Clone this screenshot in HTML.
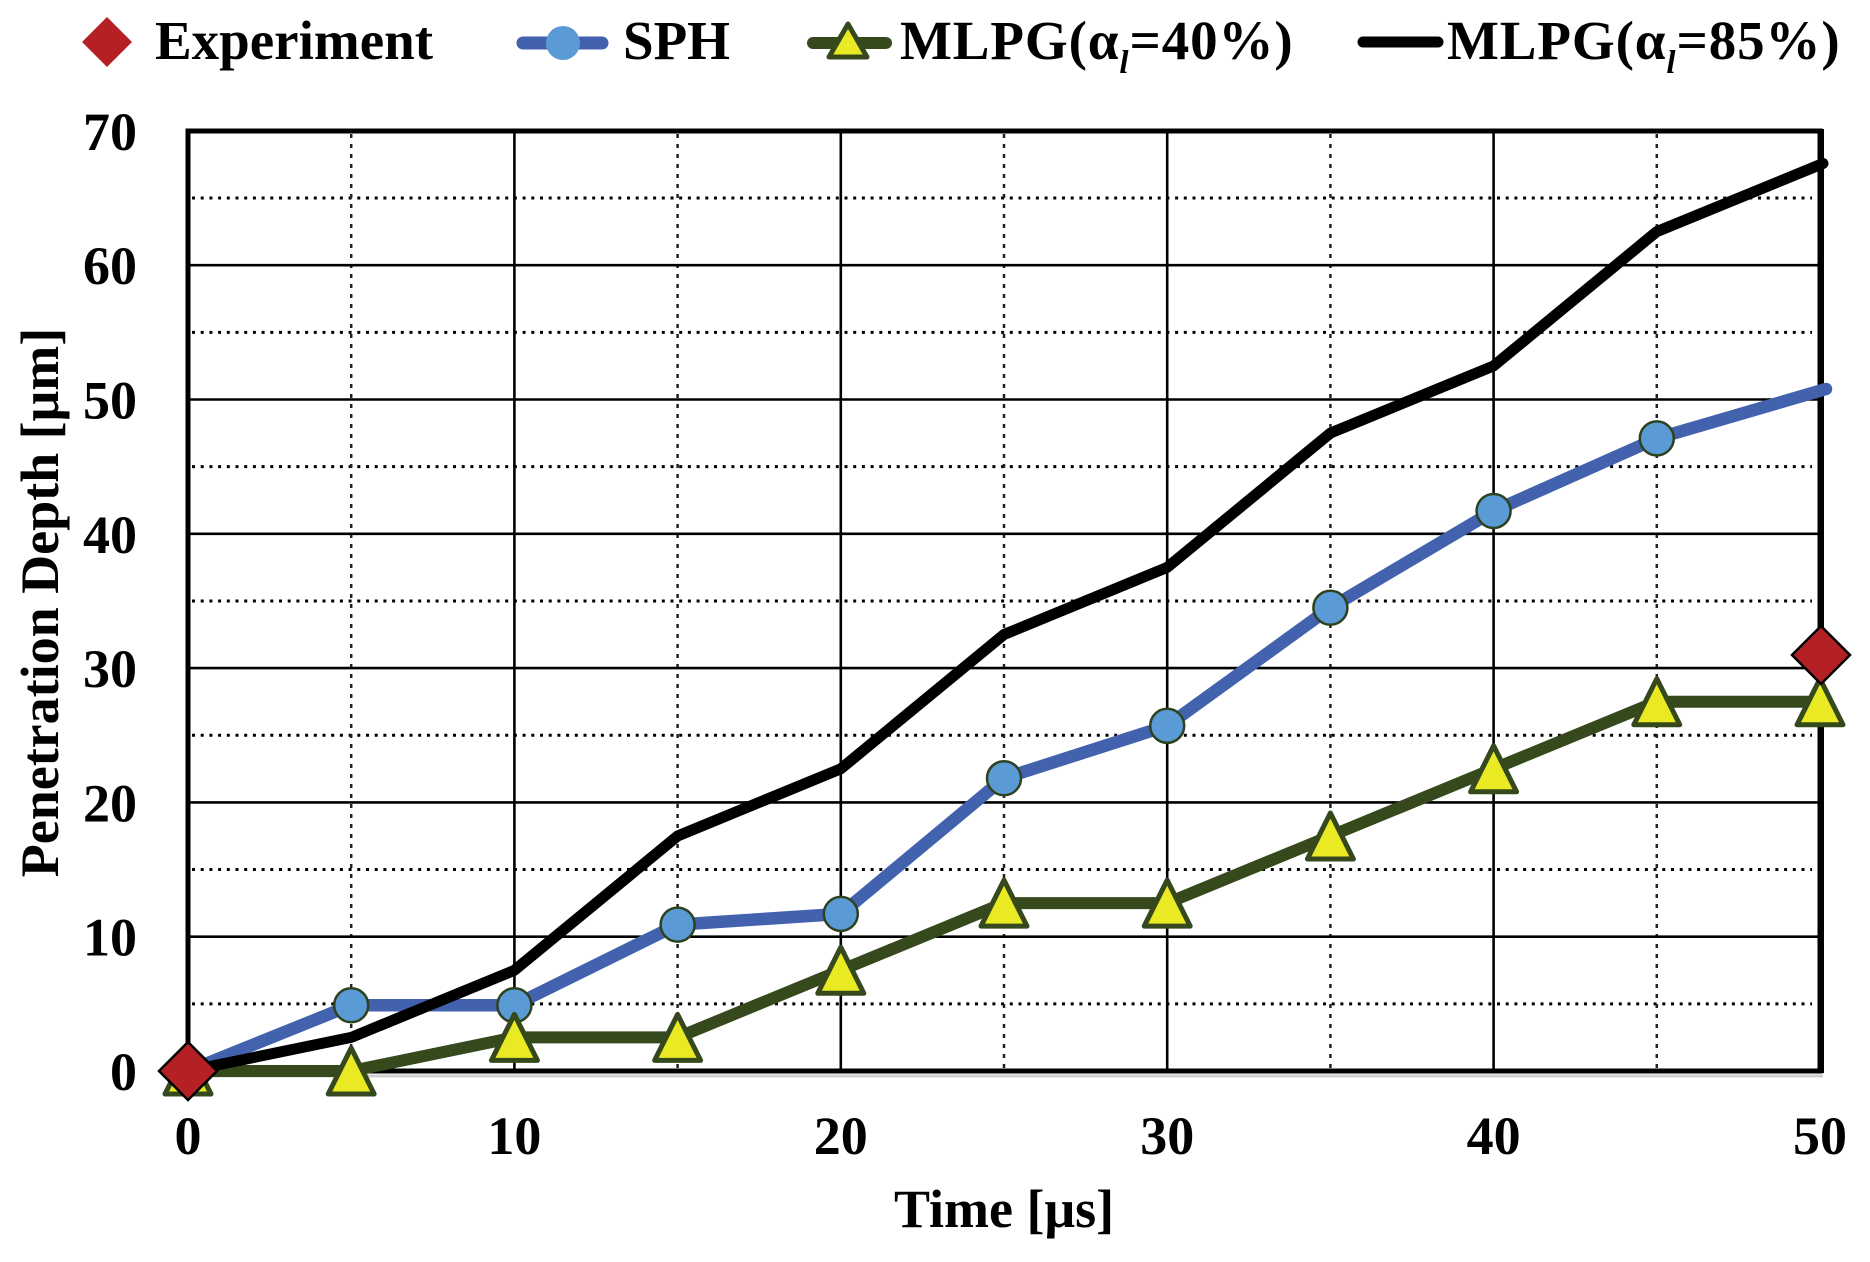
<!DOCTYPE html>
<html>
<head>
<meta charset="utf-8">
<style>
  html,body{margin:0;padding:0;background:#fff;}
  svg{display:block;}
  text{font-family:"Liberation Serif","Times New Roman",serif;font-weight:bold;fill:#000;}
</style>
</head>
<body>
<svg width="1870" height="1262" viewBox="0 0 1870 1262" xmlns="http://www.w3.org/2000/svg">
  <rect x="0" y="0" width="1870" height="1262" fill="#fff"/>

  <!-- Legend -->
  <polygon points="107,17 132,42 107,67 82,42" fill="#b52025"/>
  <text x="155" y="59" font-size="55">Experiment</text>

  <line x1="523" y1="43" x2="602" y2="43" stroke="#4262ae" stroke-width="13" stroke-linecap="round"/>
  <circle cx="563" cy="43" r="17" fill="#5b9bd5"/>
  <text x="623" y="59" font-size="55">SPH</text>

  <line x1="813" y1="43" x2="886" y2="43" stroke="#35491d" stroke-width="12" stroke-linecap="round"/>
  <polygon points="848,24 867,57 829,57" fill="#eaea24" stroke="#35491d" stroke-width="5" stroke-linejoin="round"/>
  <text x="900" y="59" font-size="55" letter-spacing="0.9">MLPG(α<tspan font-size="33" font-style="italic" dy="14">l</tspan><tspan dy="-14">=40%)</tspan></text>

  <line x1="1363" y1="42" x2="1438" y2="42" stroke="#000" stroke-width="11" stroke-linecap="round"/>
  <text x="1447" y="59" font-size="55" letter-spacing="0.9">MLPG(α<tspan font-size="33" font-style="italic" dy="14">l</tspan><tspan dy="-14">=85%)</tspan></text>

  <!-- Minor horizontal dotted grid -->
  <g stroke="#000" stroke-width="3" stroke-dasharray="3 5.7">
    <line x1="192" y1="1003.85" x2="1812" y2="1003.85"/>
    <line x1="192" y1="869.55" x2="1812" y2="869.55"/>
    <line x1="192" y1="735.25" x2="1812" y2="735.25"/>
    <line x1="192" y1="600.95" x2="1812" y2="600.95"/>
    <line x1="192" y1="466.65" x2="1812" y2="466.65"/>
    <line x1="192" y1="332.35" x2="1812" y2="332.35"/>
    <line x1="192" y1="198.05" x2="1812" y2="198.05"/>
  </g>
  <!-- Minor vertical dashed grid -->
  <g stroke="#222" stroke-width="2.5" stroke-dasharray="4 6">
    <line x1="351.2" y1="134" x2="351.2" y2="1068"/>
    <line x1="677.6" y1="134" x2="677.6" y2="1068"/>
    <line x1="1004" y1="134" x2="1004" y2="1068"/>
    <line x1="1330.4" y1="134" x2="1330.4" y2="1068"/>
    <line x1="1656.8" y1="134" x2="1656.8" y2="1068"/>
  </g>
  <!-- Major grid -->
  <g stroke="#000" stroke-width="2.6">
    <line x1="188" y1="936.7" x2="1820" y2="936.7"/>
    <line x1="188" y1="802.4" x2="1820" y2="802.4"/>
    <line x1="188" y1="668.1" x2="1820" y2="668.1"/>
    <line x1="188" y1="533.8" x2="1820" y2="533.8"/>
    <line x1="188" y1="399.5" x2="1820" y2="399.5"/>
    <line x1="188" y1="265.2" x2="1820" y2="265.2"/>
    <line x1="514.4" y1="131" x2="514.4" y2="1071"/>
    <line x1="840.8" y1="131" x2="840.8" y2="1071"/>
    <line x1="1167.2" y1="131" x2="1167.2" y2="1071"/>
    <line x1="1493.6" y1="131" x2="1493.6" y2="1071"/>
  </g>
  <!-- Plot border -->
  <line x1="188" y1="1076" x2="1823" y2="1076" stroke="#cfcfcf" stroke-width="3"/>
  <rect x="188" y="131" width="1632" height="940" fill="none" stroke="#000" stroke-width="5"/>
  <line x1="1821" y1="129" x2="1821" y2="1073" stroke="#000" stroke-width="6"/>

  <!-- Y tick labels -->
  <g font-size="54" text-anchor="end">
    <text x="137" y="1090">0</text>
    <text x="137" y="955.7">10</text>
    <text x="137" y="821.4">20</text>
    <text x="137" y="687.1">30</text>
    <text x="137" y="552.8">40</text>
    <text x="137" y="418.5">50</text>
    <text x="137" y="284.2">60</text>
    <text x="137" y="149.9">70</text>
  </g>
  <!-- X tick labels -->
  <g font-size="54" text-anchor="middle">
    <text x="188" y="1154">0</text>
    <text x="514.4" y="1154">10</text>
    <text x="840.8" y="1154">20</text>
    <text x="1167.2" y="1154">30</text>
    <text x="1493.6" y="1154">40</text>
    <text x="1820" y="1154">50</text>
  </g>
  <!-- Axis titles -->
  <text x="894" y="1227" font-size="54">Time [μs]</text>
  <text transform="translate(58,602.5) rotate(-90)" font-size="54" text-anchor="middle">Penetration Depth [μm]</text>

  <!-- SPH series -->
  <polyline fill="none" stroke="#4262ae" stroke-width="12.5" stroke-linejoin="round" stroke-linecap="round"
    points="188,1071 351.2,1005.2 514.4,1005.2 677.6,924.6 840.8,913.9 1004,778.2 1167.2,725.8 1330.4,607.7 1493.6,511 1656.8,438.4 1826,389"/>
  <g fill="#5b9bd5" stroke="#2e4220" stroke-width="2.5">
    <circle cx="351.2" cy="1005.2" r="17"/>
    <circle cx="514.4" cy="1005.2" r="17"/>
    <circle cx="677.6" cy="924.6" r="17"/>
    <circle cx="840.8" cy="913.9" r="17"/>
    <circle cx="1004" cy="778.2" r="17"/>
    <circle cx="1167.2" cy="725.8" r="17"/>
    <circle cx="1330.4" cy="607.7" r="17"/>
    <circle cx="1493.6" cy="511" r="17"/>
    <circle cx="1656.8" cy="438.4" r="17"/>
  </g>

  <!-- MLPG 40% series -->
  <polyline fill="none" stroke="#35491d" stroke-width="12" stroke-linejoin="round" stroke-linecap="round"
    points="188,1071 351.2,1071 514.4,1037.4 677.6,1037.4 840.8,970.3 1004,903.1 1167.2,903.1 1330.4,836 1493.6,768.8 1656.8,701.7 1820,701.7"/>
  <g fill="#eaea24" stroke="#35491d" stroke-width="5" stroke-linejoin="round">
    <polygon points="188,1048 211,1094 165,1094"/>
    <polygon points="351.2,1048 374.2,1094 328.2,1094"/>
    <polygon points="514.4,1014.4 537.4,1060.4 491.4,1060.4"/>
    <polygon points="677.6,1014.4 700.6,1060.4 654.6,1060.4"/>
    <polygon points="840.8,947.3 863.8,993.3 817.8,993.3"/>
    <polygon points="1004,880.1 1027,926.1 981,926.1"/>
    <polygon points="1167.2,880.1 1190.2,926.1 1144.2,926.1"/>
    <polygon points="1330.4,813 1353.4,859 1307.4,859"/>
    <polygon points="1493.6,745.8 1516.6,791.8 1470.6,791.8"/>
    <polygon points="1656.8,678.7 1679.8,724.7 1633.8,724.7"/>
    <polygon points="1820,678.7 1843,724.7 1797,724.7"/>
  </g>

  <!-- MLPG 85% series -->
  <polyline fill="none" stroke="#000" stroke-width="11" stroke-linejoin="round" stroke-linecap="round"
    points="188,1071 351.2,1037.4 514.4,970.3 677.6,836 840.8,768.8 1004,634.5 1167.2,567.4 1330.4,433.1 1493.6,365.9 1656.8,231.6 1823,163.5"/>

  <!-- Experiment -->
  <g fill="#b52025" stroke="#000" stroke-width="2.5">
    <polygon points="188,1042 217,1071 188,1100 159,1071"/>
    <polygon points="1821,626 1850,655 1821,684 1792,655"/>
  </g>
</svg>
</body>
</html>
